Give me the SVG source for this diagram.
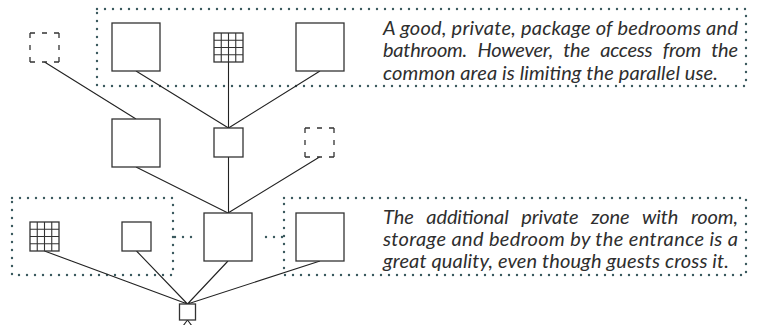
<svg xmlns="http://www.w3.org/2000/svg" width="760" height="325" viewBox="0 0 760 325">
<style>
.box{fill:#fff;stroke:#333;stroke-width:1.3}
.dash{fill:none;stroke:#333;stroke-width:1.3;stroke-dasharray:5 7}
.grid{fill:none;stroke:#333;stroke-width:1.1}
.dot{fill:none;stroke:#3b5a5f;stroke-width:2.4;stroke-linecap:round;stroke-dasharray:0 8}
.edge{fill:none;stroke:#222;stroke-width:1.1}
.t{font-family:Lato,"Liberation Sans",sans-serif;font-style:italic;font-size:20px;fill:#2e2e2e}
</style>
<g id="zones">
<rect class="dot" x="97" y="9" width="649" height="77"/>
<rect class="dot" x="12" y="198" width="161" height="77"/>
<rect class="dot" x="284" y="198" width="462" height="77"/>
<path class="dot" d="M175 237H197 M266 237H284"/>
</g>
<g id="connectors">
<path class="edge" d="M44.5 62L136 119 M136 71L228.5 128 M228.5 62V128 M320 71L228.5 128 M136 167L228 213 M228.5 157V213 M319.5 157L228 213 M44.5 251L187.5 304 M136.5 251L187.5 304 M228 261L187.5 304 M320 261L187.5 304 M187.5 320L180 330 M187.5 320L195 330"/>
</g>
<g id="n-dash-top"><path class="dash" d="M30 33h29 M59 33v29 M59 62h-29 M30 62v-29"/></g>
<g id="n-top1"><rect class="box" x="112" y="23" width="48" height="48"/></g>
<g id="n-top-grid"><rect class="box" x="214" y="33" width="29" height="29"/><path class="grid" d="M221.25 33v29 M228.5 33v29 M235.75 33v29 M214 40.25h29 M214 47.5h29 M214 54.75h29"/></g>
<g id="n-top3"><rect class="box" x="296" y="23" width="48" height="48"/></g>
<g id="n-mid1"><rect class="box" x="112" y="119" width="48" height="48"/></g>
<g id="n-mid2"><rect class="box" x="214" y="128" width="29" height="29"/></g>
<g id="n-dash-mid"><path class="dash" d="M305 128h29 M334 128v29 M334 157h-29 M305 157v-29"/></g>
<g id="n-low-grid"><rect class="box" x="30" y="222" width="29" height="29"/><path class="grid" d="M37.25 222v29 M44.5 222v29 M51.75 222v29 M30 229.25h29 M30 236.5h29 M30 243.75h29"/></g>
<g id="n-low-small"><rect class="box" x="122" y="222" width="29" height="29"/></g>
<g id="n-center"><rect class="box" x="204" y="213" width="48" height="48"/></g>
<g id="n-right"><rect class="box" x="296" y="213" width="48" height="48"/></g>
<g id="n-entry"><rect class="box" x="179.5" y="304" width="16" height="16"/></g>
<g id="text-top" class="t">
<text x="383" y="35" textLength="355" lengthAdjust="spacing">A good, private, package of bedrooms and</text>
<text x="383" y="57" textLength="355" lengthAdjust="spacing" word-spacing="6">bathroom. However, the access from the</text>
<text x="383" y="79.5" textLength="335" lengthAdjust="spacing">common area is limiting the parallel use.</text>
</g>
<g id="text-bottom" class="t">
<text x="383" y="223.5" textLength="355" lengthAdjust="spacing" word-spacing="8">The additional private zone with room,</text>
<text x="383" y="245.5" textLength="355" lengthAdjust="spacing">storage and bedroom by the entrance is a</text>
<text x="383" y="267.5" textLength="346" lengthAdjust="spacing">great quality, even though guests cross it.</text>
</g>
</svg>
